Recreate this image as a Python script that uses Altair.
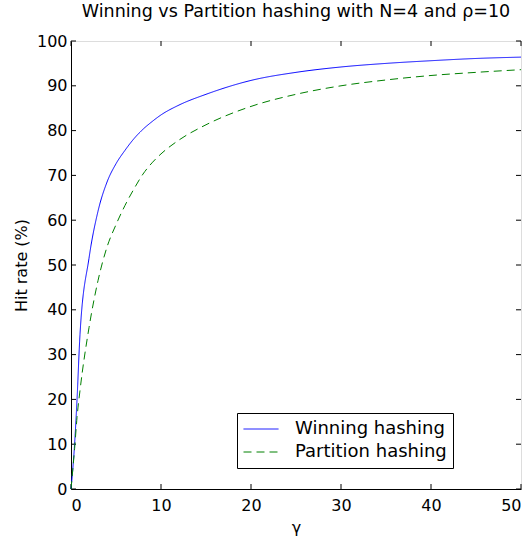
import altair as alt
import pandas as pd

gamma = [0, 0.4, 0.67, 1, 2, 3, 4, 5, 6, 7, 8, 9, 10, 12, 15, 20, 25, 30, 35, 40, 45, 50]
winning = [0, 10, 20, 34.5, 51.5, 62, 68.5, 72.6, 75.6, 78.2, 80.3, 82.0, 83.5, 85.7, 88.1, 91.2, 93.0, 94.2, 95.0, 95.6, 96.1, 96.4]
partition = [0, 9, 16, 22, 36, 46.5, 54, 59, 63.3, 67, 70.3, 72.8, 74.8, 77.9, 81.3, 85.4, 88.1, 90.0, 91.3, 92.3, 93.0, 93.6]
series_names = ["Winning hashing", "Partition hashing"]
series_colors = ["#0000ff", "#008000"]
xticks = [0, 10, 20, 30, 40, 50]
yticks = [0, 10, 20, 30, 40, 50, 60, 70, 80, 90, 100]

rows = []
for g, w, p in zip(gamma, winning, partition):
    rows.append({"gamma": g, "hit": w, "series": series_names[0]})
    rows.append({"gamma": g, "hit": p, "series": series_names[1]})
df = pd.DataFrame(rows)

FONT = "DejaVu Sans"
W, H = 450, 448

xscale = alt.Scale(domain=[0, 50], nice=False, zero=False)
yscale = alt.Scale(domain=[0, 100], nice=False, zero=False)

lines = alt.Chart(df).mark_line(strokeWidth=1, interpolate="monotone").encode(
    x=alt.X("gamma:Q", scale=xscale,
            axis=alt.Axis(title="γ", values=xticks, ticks=False, grid=False,
                          labelFontSize=16, labelFont=FONT, labelPadding=8,
                          titleFont=FONT, titleFontSize=16, titleFontWeight="normal",
                          titlePadding=6, domainColor="black", labelColor="black")),
    y=alt.Y("hit:Q", scale=yscale,
            axis=alt.Axis(title="Hit rate (%)", values=yticks, ticks=False, grid=False,
                          labelFontSize=16, labelFont=FONT, labelPadding=4,
                          titleFont=FONT, titleFontSize=16, titleFontWeight="normal",
                          titlePadding=7, domainColor="black", labelColor="black")),
    color=alt.Color("series:N", scale=alt.Scale(domain=series_names, range=series_colors),
                    title=None,
                    legend=alt.Legend(orient="none", legendX=166, legendY=372,
                                      symbolType="stroke", symbolSize=1225,
                                      symbolStrokeWidth=1, clipHeight=20,
                                      labelFont=FONT, labelFontSize=18, labelColor="black",
                                      labelOffset=16, rowPadding=3,
                                      strokeColor="black", fillColor="white",
                                      padding=6, cornerRadius=0)),
    strokeDash=alt.StrokeDash("series:N",
                              scale=alt.Scale(domain=series_names, range=[[1, 0], [8, 5]]),
                              title=None),
)

xt = pd.DataFrame({"t": xticks})
yt = pd.DataFrame({"t": yticks})
tick_style = dict(color="black", strokeWidth=1)
xb = alt.Chart(xt).mark_rule(**tick_style).encode(x=alt.X("t:Q", scale=xscale), y=alt.value(H), y2=alt.value(H - 5))
xtp = alt.Chart(xt).mark_rule(**tick_style).encode(x=alt.X("t:Q", scale=xscale), y=alt.value(0), y2=alt.value(5))
yl = alt.Chart(yt).mark_rule(**tick_style).encode(y=alt.Y("t:Q", scale=yscale), x=alt.value(0), x2=alt.value(5))
yr = alt.Chart(yt).mark_rule(**tick_style).encode(y=alt.Y("t:Q", scale=yscale), x=alt.value(W), x2=alt.value(W - 5))

chart = alt.layer(xb, xtp, yl, yr, lines).properties(
    width=W, height=H,
    title=alt.TitleParams("Winning vs Partition hashing with N=4 and ρ=10",
                          font=FONT, fontSize=17.5, fontWeight="normal", color="black",
                          anchor="middle", offset=13),
    autosize=alt.AutoSizeParams(type="none"),
    padding={"left": 71, "top": 41, "right": 10, "bottom": 49},
).configure_view(stroke="black", strokeWidth=1).configure(background="white")

chart.save("out.html", embed_options={"renderer": "svg", "actions": False})
